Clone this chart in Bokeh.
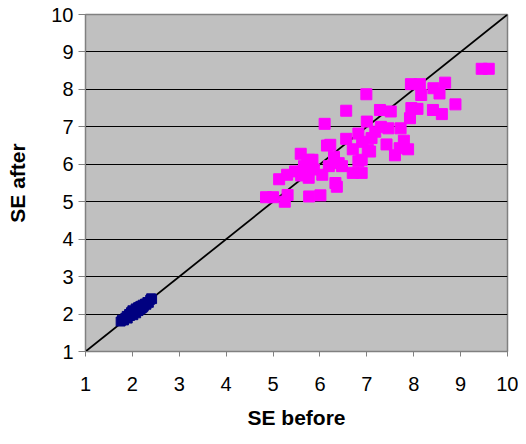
from bokeh.plotting import figure
from bokeh.models import FixedTicker, Range1d
from bokeh.embed import file_html
from bokeh.resources import INLINE

# Magenta series (SE before, SE after)
mag_x = [9.45, 9.6, 7.94, 8.13, 8.42, 8.67, 8.55, 8.16, 6.99, 8.89, 8.08, 8.41, 8.6, 6.56,
         7.28, 7.51, 7.92, 6.1, 7.0, 7.46, 7.72, 7.18, 6.82, 6.56, 6.22, 6.15, 7.42, 7.79,
         7.02, 7.88, 7.7, 7.6, 5.59, 5.77, 6.89, 5.66, 6.19, 6.47, 6.89, 6.7, 5.47, 5.3,
         5.13, 5.76, 6.33, 6.05, 6.36, 4.85, 5.0, 5.31, 5.25, 5.77, 6.01, 7.07, 6.82, 6.4,
         5.84, 5.73, 5.87, 5.6, 7.3, 6.9, 6.7, 7.1, 6.3, 7.95]
mag_y = [8.55, 8.55, 8.14, 8.14, 8.03, 8.18, 7.89, 7.85, 7.87, 7.6, 7.48, 7.45, 7.34, 7.43,
         7.45, 7.41, 7.23, 7.08, 7.14, 6.96, 6.96, 6.87, 6.82, 6.68, 6.52, 6.5, 6.53, 6.63,
         6.39, 6.4, 6.43, 6.24, 6.28, 6.12, 6.12, 5.95, 5.95, 5.95, 5.77, 5.77, 5.81, 5.72,
         5.6, 5.64, 5.5, 5.72, 5.4, 5.12, 5.12, 5.18, 5.0, 5.14, 5.17, 6.34, 6.08, 6.03,
         6.12, 6.03, 5.86, 5.7, 7.0, 6.6, 6.4, 6.7, 6.2, 7.5]

# Navy series
navy_x = [1.75, 1.78, 1.82, 1.85, 1.88, 1.9, 1.93, 1.95, 1.97, 2.0, 2.0, 2.02, 2.05, 2.07,
          2.08, 2.1, 2.12, 2.13, 2.15, 2.17, 2.18, 2.2, 2.22, 2.23, 2.25, 2.27, 2.3, 2.32,
          2.35, 2.38, 2.4, 2.42]
navy_y = [1.8, 1.85, 1.83, 1.9, 1.95, 1.88, 2.0, 1.95, 2.05, 2.0, 2.1, 1.97, 2.08, 2.15,
          2.02, 2.1, 2.18, 2.08, 2.2, 2.12, 2.22, 2.15, 2.25, 2.18, 2.22, 2.28, 2.25, 2.32,
          2.3, 2.38, 2.42, 2.4]

# Identity line
line_x = [1, 10]
line_y = [1, 10]
ticks = [1, 2, 3, 4, 5, 6, 7, 8, 9, 10]

p = figure(width=518, height=436, output_backend="svg", toolbar_location=None,
           x_range=Range1d(1, 10), y_range=Range1d(1, 10),
           min_border_left=85, min_border_right=11, min_border_top=14, min_border_bottom=85)
p.background_fill_color = "#C0C0C0"
p.border_fill_color = "white"
p.outline_line_color = "#808080"
p.outline_line_width = 1.5

p.xgrid.visible = False
p.ygrid.grid_line_color = "black"
p.ygrid.grid_line_width = 1

for ax in (p.xaxis, p.yaxis):
    ax.ticker = FixedTicker(ticks=ticks)
    ax.minor_tick_line_color = None
    ax.major_tick_in = 0
    ax.major_tick_line_color = "#808080"
    ax.axis_line_color = "#808080"
    ax.major_label_text_font = "Liberation Sans"
    ax.major_label_text_font_size = "20px"
    ax.major_label_text_color = "black"
    ax.axis_label_text_font = "Liberation Sans"
    ax.axis_label_text_font_size = "21px"
    ax.axis_label_text_font_style = "bold"
    ax.axis_label_text_color = "black"

p.xaxis.major_tick_out = 5
p.yaxis.major_tick_out = 7
p.xaxis.major_label_standoff = 20
p.yaxis.major_label_standoff = 5
p.xaxis.axis_label = "SE before"
p.yaxis.axis_label = "SE after"
p.xaxis.axis_label_standoff = 12
p.yaxis.axis_label_standoff = 19

p.line(line_x, line_y, line_color="black", line_width=1.8)
p.scatter(mag_x, mag_y, marker="square", size=11, fill_color="#FF00FF", line_color="#FF00FF")
p.scatter(navy_x, navy_y, marker="square", size=9, fill_color="#000080", line_color="#000080")

open("out.html", "w").write(file_html(p, INLINE))
